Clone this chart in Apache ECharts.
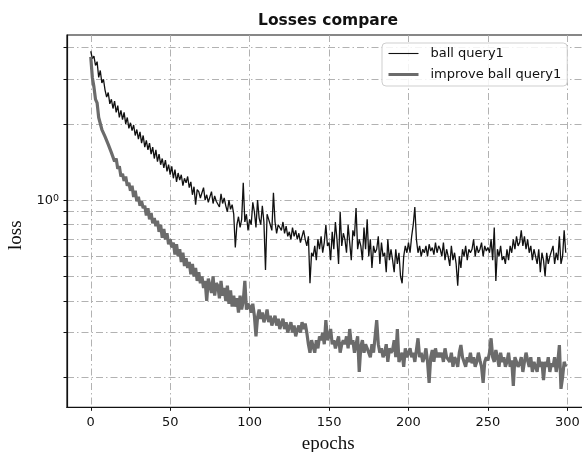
<!DOCTYPE html>
<html>
<head>
<meta charset="utf-8">
<script src="https://cdn.jsdelivr.net/npm/echarts@6/dist/echarts.min.js"></script>
<style>
  html, body { margin: 0; padding: 0; background: #fff; }
  #main { width: 582px; height: 452px; }
</style>
</head>
<body>
<div id="main"></div>
<script>
// loss per epoch
const ballQuery = [
  3.87, 3.62, 3.70, 3.40, 3.52, 3.05, 3.25, 2.90, 3.00, 2.72,
  2.55, 2.66, 2.40, 2.50, 2.30, 2.46, 2.22, 2.36, 2.12, 2.26,
  2.08, 2.22, 2.00, 2.12, 1.92, 2.02, 1.88, 1.98, 1.80, 1.90,
  1.74, 1.86, 1.68, 1.80, 1.62, 1.72, 1.58, 1.68, 1.52, 1.62,
  1.46, 1.58, 1.42, 1.52, 1.38, 1.46, 1.34, 1.44, 1.30, 1.38,
  1.26, 1.36, 1.22, 1.32, 1.18, 1.28, 1.20, 1.26, 1.14, 1.22,
  1.17, 1.24, 1.12, 1.18, 1.05, 1.13, 0.96, 1.10, 1.08, 1.02,
  1.07, 1.12, 1.00, 1.05, 0.98, 1.03, 1.08, 0.97, 1.04, 0.99,
  1.00, 0.94, 1.06, 0.97, 1.02, 0.95, 0.90, 1.00, 0.92, 0.96,
  0.88, 0.65, 0.80, 0.86, 0.78, 0.84, 1.17, 0.82, 0.88, 0.76,
  0.84, 0.80, 0.98, 0.90, 0.78, 1.00, 0.85, 0.80, 0.95, 0.82,
  0.53, 0.88, 0.84, 0.80, 0.76, 1.07, 0.82, 0.74, 0.80, 0.78,
  0.76, 0.82, 0.74, 0.79, 0.72, 0.75, 0.70, 0.78, 0.72, 0.76,
  0.70, 0.74, 0.68, 0.72, 0.76, 0.70, 0.66, 0.72, 0.47, 0.62,
  0.60, 0.66, 0.58, 0.70, 0.64, 0.72, 0.62, 0.68, 0.80, 0.66,
  0.68, 0.58, 0.75, 0.64, 0.82, 0.70, 0.56, 0.90, 0.66, 0.74,
  0.70, 0.62, 0.80, 0.68, 0.58, 0.76, 0.72, 0.93, 0.64, 0.70,
  0.66, 0.58, 0.78, 0.64, 0.84, 0.60, 0.70, 0.54, 0.66, 0.62,
  0.64, 0.72, 0.56, 0.68, 0.60, 0.62, 0.52, 0.70, 0.58, 0.64,
  0.58, 0.52, 0.64, 0.56, 0.62, 0.50, 0.47, 0.60, 0.66, 0.62,
  0.68, 0.62, 0.72, 0.80, 0.94, 0.70, 0.62, 0.66, 0.60, 0.64,
  0.62, 0.66, 0.60, 0.67, 0.63, 0.65, 0.61, 0.68, 0.62, 0.66,
  0.64, 0.60, 0.68, 0.58, 0.64, 0.60, 0.55, 0.66, 0.58, 0.62,
  0.56, 0.46, 0.60, 0.54, 0.64, 0.60, 0.66, 0.58, 0.64, 0.62,
  0.64, 0.70, 0.60, 0.66, 0.62, 0.64, 0.68, 0.60, 0.66, 0.63,
  0.65, 0.62, 0.70, 0.58, 0.78, 0.48, 0.64, 0.60, 0.66, 0.58,
  0.60, 0.56, 0.64, 0.58, 0.66, 0.62, 0.70, 0.64, 0.72, 0.66,
  0.68, 0.76, 0.66, 0.72, 0.64, 0.70, 0.62, 0.66, 0.58, 0.64,
  0.60, 0.56, 0.64, 0.52, 0.62, 0.58, 0.50, 0.62, 0.56, 0.60,
  0.60, 0.66, 0.56, 0.62, 0.58, 0.72, 0.56, 0.60, 0.76, 0.62
];

const improveBallQuery = [
  3.68, 3.05, 2.80, 2.50, 2.42, 2.12, 2.10, 1.90, 1.92, 1.78,
  1.80, 1.66, 1.68, 1.54, 1.56, 1.42, 1.46, 1.33, 1.36, 1.24,
  1.27, 1.19, 1.24, 1.14, 1.17, 1.09, 1.14, 1.03, 1.09, 0.99,
  1.03, 0.95, 0.99, 0.93, 0.95, 0.87, 0.93, 0.84, 0.89, 0.81,
  0.85, 0.79, 0.83, 0.75, 0.80, 0.71, 0.77, 0.70, 0.74, 0.67,
  0.70, 0.65, 0.68, 0.61, 0.67, 0.60, 0.64, 0.57, 0.62, 0.55,
  0.59, 0.54, 0.57, 0.51, 0.56, 0.50, 0.54, 0.48, 0.52, 0.47,
  0.50, 0.45, 0.48, 0.40, 0.49, 0.46, 0.43, 0.50, 0.42, 0.47,
  0.46, 0.41, 0.48, 0.42, 0.45, 0.40, 0.46, 0.39, 0.44, 0.38,
  0.42, 0.38, 0.41, 0.36, 0.42, 0.37, 0.40, 0.48, 0.37, 0.39,
  0.38, 0.36, 0.39, 0.35, 0.29, 0.345, 0.37, 0.34, 0.36, 0.33,
  0.345, 0.37, 0.33, 0.35, 0.32, 0.336, 0.35, 0.32, 0.34, 0.31,
  0.326, 0.34, 0.31, 0.33, 0.30, 0.316, 0.33, 0.30, 0.32, 0.29,
  0.307, 0.32, 0.30, 0.33, 0.31, 0.326, 0.30, 0.27, 0.25, 0.28,
  0.264, 0.25, 0.28, 0.26, 0.29, 0.28, 0.30, 0.27, 0.336, 0.28,
  0.29, 0.31, 0.27, 0.28, 0.26, 0.264, 0.29, 0.25, 0.27, 0.28,
  0.27, 0.29, 0.26, 0.31, 0.27, 0.28, 0.25, 0.27, 0.29, 0.21,
  0.264, 0.28, 0.25, 0.27, 0.26, 0.256, 0.24, 0.27, 0.25, 0.29,
  0.336, 0.27, 0.25, 0.26, 0.24, 0.249, 0.27, 0.23, 0.26, 0.25,
  0.256, 0.28, 0.24, 0.31, 0.23, 0.24, 0.25, 0.22, 0.26, 0.24,
  0.249, 0.26, 0.24, 0.25, 0.23, 0.256, 0.285, 0.24, 0.25, 0.23,
  0.24, 0.26, 0.23, 0.19, 0.24, 0.256, 0.23, 0.26, 0.24, 0.25,
  0.24, 0.25, 0.23, 0.26, 0.24, 0.244, 0.23, 0.25, 0.22, 0.24,
  0.233, 0.22, 0.25, 0.268, 0.24, 0.244, 0.22, 0.24, 0.23, 0.25,
  0.227, 0.24, 0.22, 0.23, 0.25, 0.233, 0.22, 0.19, 0.23, 0.24,
  0.233, 0.25, 0.285, 0.24, 0.23, 0.256, 0.24, 0.22, 0.25, 0.23,
  0.24, 0.22, 0.23, 0.25, 0.22, 0.233, 0.185, 0.24, 0.23, 0.22,
  0.227, 0.24, 0.21, 0.23, 0.25, 0.233, 0.22, 0.24, 0.21, 0.23,
  0.227, 0.21, 0.24, 0.22, 0.23, 0.195, 0.23, 0.22, 0.24, 0.21,
  0.227, 0.22, 0.24, 0.21, 0.23, 0.268, 0.18, 0.20, 0.23, 0.22
];

// ticks
const xTicks = [0, 50, 100, 150, 200, 250, 300];
const yTicks = [0.2, 0.3, 0.4, 0.5, 0.6, 0.7, 0.8, 0.9, 1, 2, 3, 4];
const yLabels = [1];

const epochs = ballQuery.map((v, i) => i);

var myChart = echarts.init(document.getElementById("main"));

// dash-dot grid like matplotlib '-.'
const gridLine = {
  show: true,
  lineStyle: { color: "#a9a9a9", width: 0.9, type: [7, 3, 1.5, 3] }
};

let option = {
  backgroundColor: "#fff",
  animation: false,
  title: {
    text: "Losses compare",
    left: 328,
    top: 13,
    padding: 0,
    textAlign: "center",
    textStyle: {
      fontFamily: "DejaVu Sans",
      fontSize: 15.5,
      fontWeight: "bold",
      color: "#111"
    }
  },
  legend: {
    orient: "vertical",
    left: 382,
    top: 43,
    padding: [4, 6, 5, 5],
    itemWidth: 30,
    itemHeight: 14,
    itemGap: 8,
    backgroundColor: "rgba(255,255,255,0.85)",
    borderColor: "#cfcfcf",
    borderWidth: 1,
    borderRadius: 4,
    itemStyle: { opacity: 0 },
    textStyle: {
      fontFamily: "DejaVu Sans",
      fontSize: 13,
      color: "#111",
      padding: [0, 0, 0, 7]
    },
    data: [
      { name: "ball query1", lineStyle: { width: 1.1 } },
      { name: "improve ball query1", lineStyle: { width: 3 } }
    ]
  },
  grid: {
    left: 67,
    top: 35,
    width: 522.5,
    bottom: 44.7,
    outerBoundsMode: "none",
    show: true,
    borderColor: "#111",
    borderWidth: 1.2
  },
  xAxis: {
    type: "value",
    min: -14.95,
    max: 313.95,
    name: "epochs",
    nameLocation: "middle",
    nameGap: 21,
    nameTextStyle: {
      fontFamily: "Liberation Serif",
      fontSize: 19,
      color: "#111"
    },
    axisLine: { show: true, onZero: false, lineStyle: { color: "#111", width: 1.2 } },
    axisTick: {
      show: true,
      length: 3.5,
      customValues: xTicks,
      lineStyle: { color: "#111" }
    },
    axisLabel: {
      customValues: xTicks,
      margin: 9,
      fontFamily: "DejaVu Sans",
      fontSize: 13,
      color: "#111"
    },
    splitLine: gridLine
  },
  yAxis: {
    type: "log",
    logBase: 10,
    min: 0.1522,
    max: 4.486,
    name: "loss",
    nameLocation: "middle",
    nameGap: 36,
    nameTextStyle: {
      fontFamily: "Liberation Serif",
      fontSize: 19,
      color: "#111",
      padding: [0, 28, 0, 0]
    },
    axisLine: { show: true, onZero: false, lineStyle: { color: "#111", width: 1.2 } },
    axisTick: {
      show: true,
      length: 3.5,
      customValues: yTicks,
      lineStyle: { color: "#111" }
    },
    axisLabel: {
      customValues: yLabels,
      margin: 8,
      color: "#111",
      formatter: v => (v === 1 ? "{a|10}{b|0}" : ""),
      rich: {
        a: { fontFamily: "DejaVu Sans", fontSize: 13, color: "#111" },
        b: { fontFamily: "DejaVu Sans", fontSize: 9.5, color: "#111", verticalAlign: "top" }
      }
    },
    splitLine: gridLine,
    minorTick: { show: false },
    minorSplitLine: { show: false }
  },
  series: [
    {
      name: "ball query1",
      type: "line",
      symbol: "none",
      z: 3,
      lineStyle: { color: "#111", width: 1.3 },
      itemStyle: { color: "#111" },
      data: epochs.map(i => [i, ballQuery[i]])
    },
    {
      name: "improve ball query1",
      type: "line",
      symbol: "none",
      z: 4,
      lineStyle: { color: "#6b6b6b", width: 3.2 },
      itemStyle: { color: "#6b6b6b" },
      data: epochs.map(i => [i, improveBallQuery[i]])
    }
  ]
};

myChart.setOption(option);
</script>
</body>
</html>
